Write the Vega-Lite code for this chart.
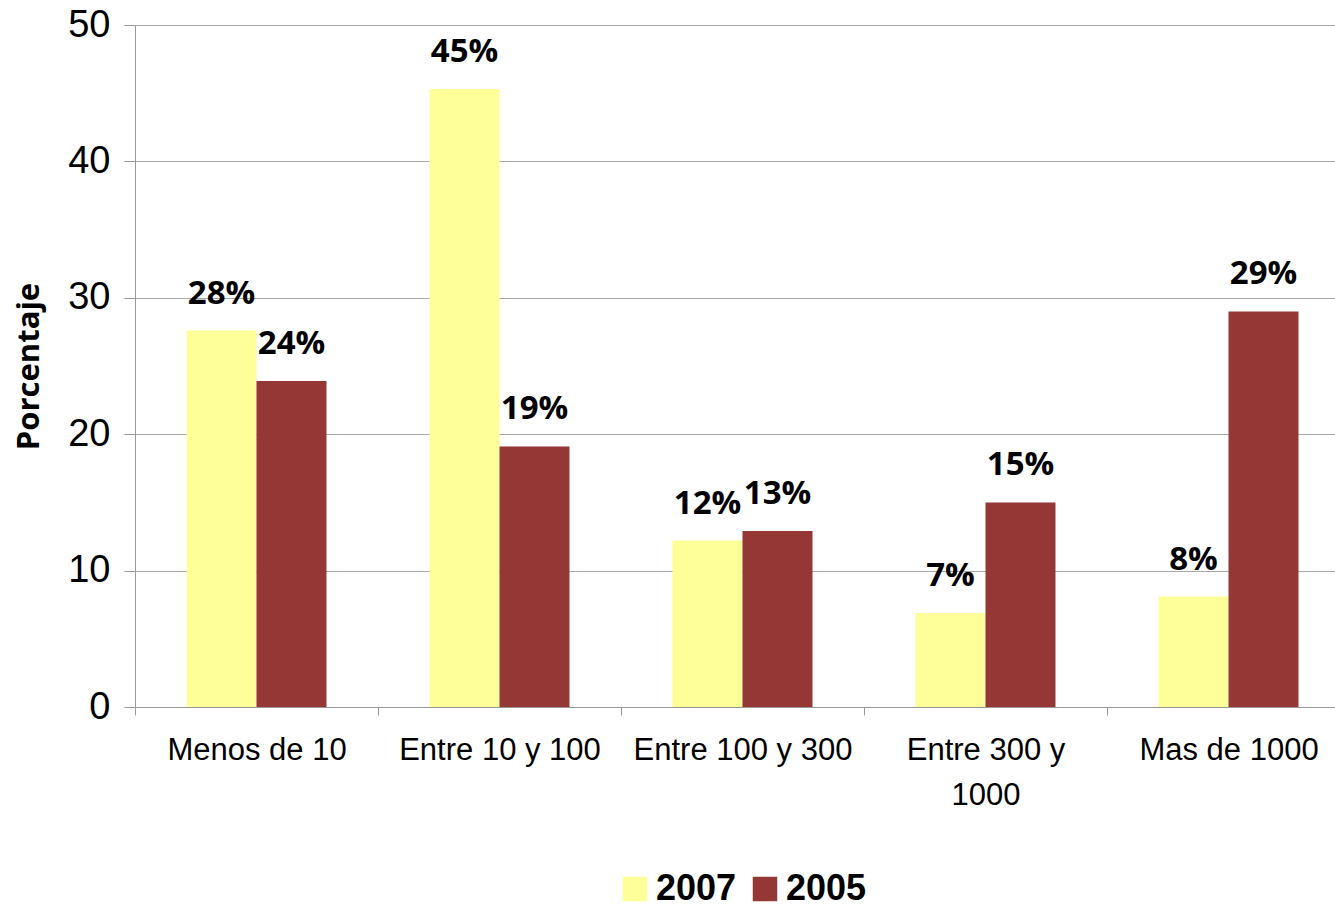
{
  "$schema": "https://vega.github.io/schema/vega-lite/v6.json",
  "autosize": {"type": "none"},
  "padding": {"left": 135, "top": 25, "right": -15, "bottom": 199},
  "width": 1215,
  "height": 682,
  "background": "white",
  "config": {"view": {"stroke": null}},
  "data": {"values": [
    {"cat": "Menos de 10", "year": "2007", "value": 27.6, "label": "28%"},
    {"cat": "Menos de 10", "year": "2005", "value": 23.9, "label": "24%"},
    {"cat": "Entre 10 y 100", "year": "2007", "value": 45.3, "label": "45%"},
    {"cat": "Entre 10 y 100", "year": "2005", "value": 19.1, "label": "19%"},
    {"cat": "Entre 100 y 300", "year": "2007", "value": 12.2, "label": "12%"},
    {"cat": "Entre 100 y 300", "year": "2005", "value": 12.9, "label": "13%"},
    {"cat": "Entre 300 y 1000", "year": "2007", "value": 6.9, "label": "7%"},
    {"cat": "Entre 300 y 1000", "year": "2005", "value": 15.0, "label": "15%"},
    {"cat": "Mas de 1000", "year": "2007", "value": 8.1, "label": "8%"},
    {"cat": "Mas de 1000", "year": "2005", "value": 29.0, "label": "29%"}
  ]},
  "encoding": {
    "x": {
      "field": "cat", "type": "nominal", "sort": null,
      "scale": {"paddingInner": 0, "paddingOuter": 0},
      "axis": {
        "title": null, "labelAngle": 0, "labelFont": "Liberation Sans", "labelFontSize": 31,
        "labelColor": "black", "tickBand": "extent", "tickSize": 8, "tickColor": "#999999",
        "domainColor": "#999999", "labelPadding": 20, "labelLineHeight": 45, "labelLimit": 0,
        "labelExpr": "datum.label == 'Entre 300 y 1000' ? ['Entre 300 y', '1000'] : datum.label",
        "grid": false
      }
    },
    "xOffset": {"field": "year", "type": "nominal", "sort": ["2007", "2005"], "scale": {"paddingInner": 0, "paddingOuter": 0.736}},
    "y": {
      "field": "value", "type": "quantitative",
      "scale": {"domain": [0, 50], "nice": false},
      "axis": {
        "title": "Porcentaje", "titleFont": "Open Sans", "titleFontSize": 31, "titleFontWeight": "bold",
        "titleColor": "black", "titlePadding": 22,
        "values": [0, 10, 20, 30, 40, 50], "labelFont": "Liberation Sans", "labelFontSize": 38,
        "labelColor": "black", "labelPadding": 14, "tickSize": 11, "tickColor": "#999999",
        "domainColor": "#999999", "gridColor": "#aaaaaa", "grid": true
      }
    }
  },
  "layer": [
    {
      "mark": {"type": "bar"},
      "encoding": {
        "color": {
          "field": "year", "type": "nominal",
          "scale": {"domain": ["2007", "2005"], "range": ["#FFFF99", "#953735"]},
          "legend": {
            "title": null, "orient": "none", "direction": "horizontal",
            "legendX": 482, "legendY": 846,
            "symbolType": "square", "symbolSize": 600, "symbolStrokeWidth": 0,
            "labelFont": "Liberation Sans", "labelFontSize": 36, "labelFontWeight": "bold",
            "labelColor": "black", "columnPadding": 10, "labelOffset": 3, "labelLimit": 0
          }
        }
      }
    },
    {
      "mark": {"type": "text", "font": "Open Sans", "fontWeight": "bold", "fontSize": 33, "baseline": "middle", "dy": -37, "color": "black"},
      "encoding": {"text": {"field": "label"}}
    }
  ]
}
